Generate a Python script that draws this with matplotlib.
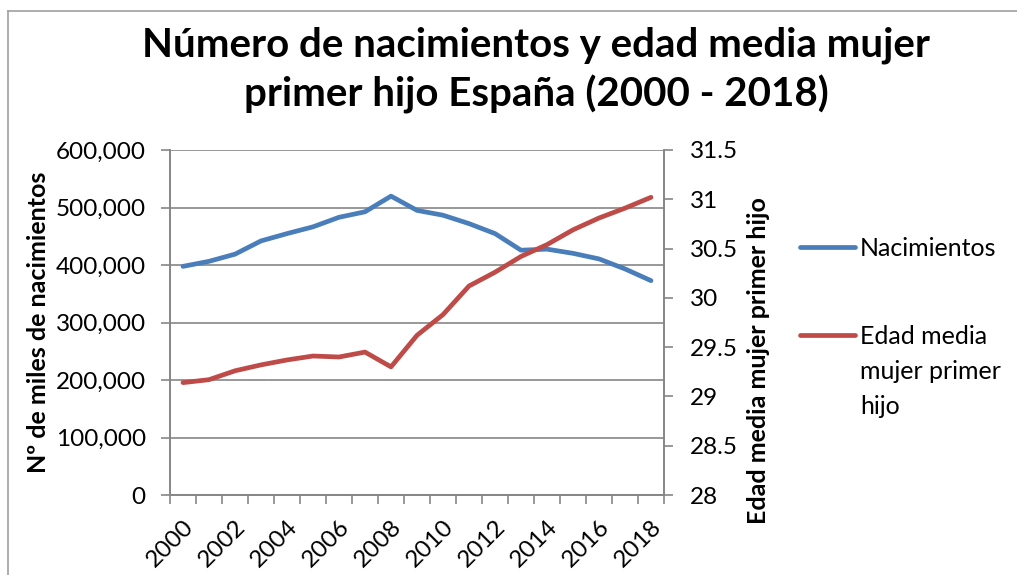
import matplotlib
matplotlib.use("Agg")
import matplotlib.pyplot as plt
from matplotlib.lines import Line2D
from matplotlib.ticker import FuncFormatter, MultipleLocator, FixedLocator

plt.rcParams['font.family'] = ['Lato', 'DejaVu Sans']

years = list(range(2000, 2019))
nacimientos = [397632, 406380, 418846, 441881, 454591, 466371, 482957, 492527,
               519779, 494997, 486575, 471999, 454648, 425715, 427595, 420290,
               410583, 393181, 372777]
edad_media = [29.14, 29.17, 29.26, 29.32, 29.37, 29.41, 29.40, 29.45, 29.30,
              29.62, 29.83, 30.12, 30.26, 30.42, 30.54, 30.69, 30.81, 30.91, 31.02]

title = "Número de nacimientos y edad media mujer\nprimer hijo España (2000 - 2018)"
ylabel_left = "Nº de miles de nacimientos"
ylabel_right = "Edad media mujer primer hijo"
legend_labels = ["Nacimientos", "Edad media\nmujer primer\nhijo"]

blue = "#4A7EBB"
red = "#BE4B48"
gray = "#868686"

W, H = 1017, 575
fig = plt.figure(figsize=(W / 100, H / 100), dpi=100)

# outer chart border
fig.add_artist(Line2D([8 / W, 8 / W], [0, 1 - 11 / H], transform=fig.transFigure, color="#A0A0A0", lw=1.2))
fig.add_artist(Line2D([8 / W, 1], [1 - 11 / H, 1 - 11 / H], transform=fig.transFigure, color="#A0A0A0", lw=1.2))

left, right, top, bottom = 170, 664, 150, 495
ax = fig.add_axes([left / W, 1 - bottom / H, (right - left) / W, (bottom - top) / H])
ax2 = ax.twinx()

x = list(range(len(years)))
ax.plot(x, nacimientos, color=blue, lw=3.4, solid_capstyle="round", zorder=3)
ax2.plot(x, edad_media, color=red, lw=3.4, solid_capstyle="round", zorder=3)

ax.set_xlim(-0.5, len(years) - 0.5)
ax.set_ylim(0, 600000)
ax.yaxis.set_major_locator(MultipleLocator(100000))
ax.yaxis.set_major_formatter(FuncFormatter(lambda v, p: f"{int(v):,}"))
ax2.set_ylim(28, 31.5)
ax2.yaxis.set_major_locator(MultipleLocator(0.5))
ax2.yaxis.set_major_formatter(FuncFormatter(lambda v, p: f"{v:g}"))

ax.grid(axis="y", color=gray, lw=1.2)
ax.set_axisbelow(True)

# x ticks: boundaries (minor) with marks, labels at even years
ax.xaxis.set_minor_locator(FixedLocator([i - 0.5 for i in range(len(years) + 1)]))
ax.set_xticks(x[::2])
ax.set_xticklabels([str(y) for y in years[::2]], rotation=45, ha="right",
                   rotation_mode="anchor", fontsize=17.5)
ax.tick_params(axis="x", which="major", length=0, pad=15)
ax.tick_params(axis="x", which="minor", length=6.5, color=gray, width=1.2)
ax.tick_params(axis="y", length=6.5, color=gray, width=1.2, labelsize=17.5, pad=11)
ax2.tick_params(axis="y", length=6.5, color=gray, width=1.2, labelsize=17.5, pad=12)

for a in (ax, ax2):
    for s in a.spines.values():
        s.set_color(gray)
        s.set_linewidth(1.2)
    a.spines["top"].set_visible(False)

ax.set_ylabel(ylabel_left, fontsize=18, fontweight="bold", labelpad=4)
ax2.set_ylabel(ylabel_right, fontsize=18, fontweight="bold")
ax2.yaxis.set_label_coords(1.168, 0.39)

fig.text(536 / W, 1 - 70 / H, title, ha="center", va="center", fontsize=29,
         fontweight="bold", linespacing=1.34)

# legend
for (ly, col, lab) in [(247, blue, legend_labels[0]), (335, red, legend_labels[1])]:
    fig.add_artist(Line2D([800 / W, 855 / W], [1 - ly / H, 1 - ly / H], transform=fig.transFigure,
                          color=col, lw=3.4, solid_capstyle="round"))
    for i, line in enumerate(lab.split("\n")):
        fig.text(860 / W, 1 - (ly + 9 + 35 * i) / H, line, ha="left", va="baseline",
                 fontsize=18)

fig.savefig("out.png", dpi=100)
